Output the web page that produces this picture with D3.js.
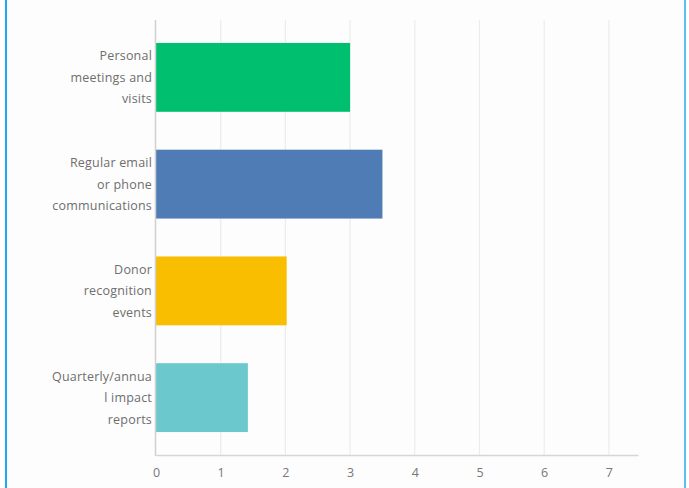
<!DOCTYPE html>
<html>
<head>
<meta charset="utf-8">
<script src="https://cdn.jsdelivr.net/npm/d3@7/dist/d3.min.js"></script>
<style>
  html, body { margin: 0; padding: 0; background: #ffffff; }
  svg { display: block; }
  .tick text { font-family: "Open Sans", "DejaVu Sans", sans-serif; }
</style>
</head>
<body>
<div id="chart"></div>
<script>
// Engagement methods and their scores
const categories = [
  ["Personal", "meetings and", "visits"],
  ["Regular email", "or phone", "communications"],
  ["Donor", "recognition", "events"],
  ["Quarterly/annua", "l impact", "reports"]
];
const values = [3.0, 3.5, 2.02, 1.42];
const colors = ["#00bf6f", "#507cb6", "#f9be00", "#6bc8cd"];
const xTicks = [0, 1, 2, 3, 4, 5, 6, 7];

const W = 689, H = 488;
const svg = d3.select("#chart").append("svg")
  .attr("width", W).attr("height", H);

// frame panel with blue side rules
svg.append("rect").attr("x", 7).attr("y", 0).attr("width", 677).attr("height", H)
  .attr("fill", "#fdfdfd");
svg.append("line").attr("x1", 6).attr("x2", 6).attr("y1", 0).attr("y2", H)
  .attr("stroke", "#1fa9ee").attr("stroke-width", 2);
svg.append("line").attr("x1", 685).attr("x2", 685).attr("y1", 0).attr("y2", H)
  .attr("stroke", "#5bc0f0").attr("stroke-width", 2);

const keys = categories.map((c, i) => "c" + i);
const y = d3.scaleBand().domain(keys).range([20, 455])
  .paddingInner(0.355).paddingOuter(0.215);
const x = d3.scaleLinear().domain([0, 7.45]).range([156, 638]);

// vertical gridlines
svg.append("g")
  .selectAll("line").data(xTicks.slice(1)).join("line")
  .attr("x1", d => x(d)).attr("x2", d => x(d))
  .attr("y1", 20).attr("y2", 455)
  .attr("stroke", "#ececec").attr("stroke-width", 1.2);

// bars
svg.append("g")
  .selectAll("rect").data(values).join("rect")
  .attr("x", x(0))
  .attr("y", (d, i) => y(keys[i]))
  .attr("width", d => x(d) - x(0))
  .attr("height", y.bandwidth())
  .attr("fill", (d, i) => colors[i]);

// left axis line
svg.append("line").attr("x1", x(0) - 0.5).attr("x2", x(0) - 0.5)
  .attr("y1", 20).attr("y2", 456)
  .attr("stroke", "#d0d0d0").attr("stroke-width", 1.5);

// bottom axis
const xAxis = d3.axisBottom(x).tickValues(xTicks).tickSize(0).tickPadding(13)
  .tickFormat(d3.format("d"));
const gx = svg.append("g").attr("transform", "translate(0,455)").call(xAxis);
gx.select(".domain").attr("stroke", "#d6d6d6").attr("stroke-width", 1.5);
gx.selectAll(".tick text").attr("fill", "#777").attr("font-size", 12.5);

// category labels, wrapped over three lines
const lab = svg.append("g")
  .selectAll("text").data(categories).join("text")
  .attr("text-anchor", "end")
  .attr("font-family", "'Open Sans', 'DejaVu Sans', sans-serif")
  .attr("font-size", 12.5)
  .attr("letter-spacing", 0.2)
  .attr("fill", "#6e6e6e")
  .attr("y", (d, i) => y(keys[i]) + y.bandwidth() / 2 - 22 + 5);
lab.selectAll("tspan").data(d => d).join("tspan")
  .attr("x", 152)
  .attr("dy", (d, j) => j === 0 ? 0 : 21.5)
  .text(d => d);
</script>
</body>
</html>
